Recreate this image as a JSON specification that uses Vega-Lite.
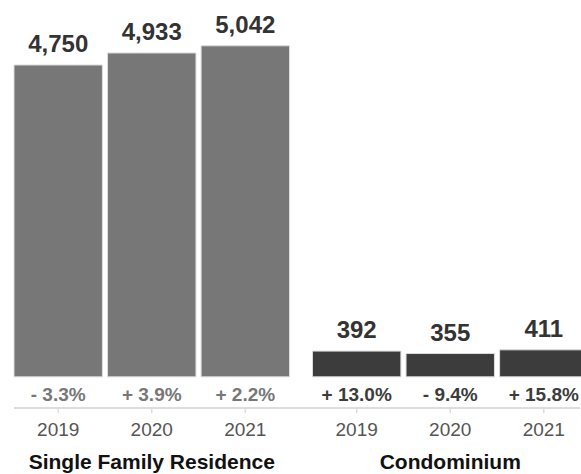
{
  "$schema": "https://vega.github.io/schema/vega-lite/v6.json",
  "width": 581,
  "height": 474,
  "autosize": {"type": "fit", "contains": "padding"},
  "padding": {"left": 13, "right": 0, "top": 0, "bottom": 0},
  "background": "white",
  "config": {"view": {"stroke": null}, "font": "Liberation Sans"},
  "data": {
    "values": [
      {"group": "Single Family Residence", "year": "2019", "value": 4750, "label": "4,750", "change": "- 3.3%"},
      {"group": "Single Family Residence", "year": "2020", "value": 4933, "label": "4,933", "change": "+ 3.9%"},
      {"group": "Single Family Residence", "year": "2021", "value": 5042, "label": "5,042", "change": "+ 2.2%"},
      {"group": "Condominium", "year": "2019", "value": 392, "label": "392", "change": "+ 13.0%"},
      {"group": "Condominium", "year": "2020", "value": 355, "label": "355", "change": "- 9.4%"},
      {"group": "Condominium", "year": "2021", "value": 411, "label": "411", "change": "+ 15.8%"}
    ]
  },
  "encoding": {
    "x": {
      "field": "group", "type": "nominal",
      "scale": {"domain": ["Single Family Residence", "Condominium"], "range": [0, 574], "paddingInner": 0.077, "paddingOuter": 0},
      "axis": null
    },
    "xOffset": {
      "field": "year", "type": "nominal",
      "scale": {"paddingInner": 0.055, "paddingOuter": 0}
    }
  },
  "layer": [
    {
      "mark": {"type": "rule", "color": "#dddddd", "strokeWidth": 2},
      "encoding": {
        "x": null, "xOffset": null,
        "y": {"datum": -475, "type": "quantitative", "scale": {"domain": [-1480, 5740], "nice": false, "zero": false}, "axis": null}
      }
    },
    {
      "mark": {"type": "rule", "color": "#dddddd", "strokeWidth": 1.5},
      "encoding": {
        "y": {"datum": -475, "type": "quantitative"},
        "y2": {"datum": -553}
      }
    },
    {
      "mark": {"type": "bar", "stroke": "#dcdcdc", "strokeWidth": 1},
      "encoding": {
        "y": {"field": "value", "type": "quantitative"},
        "y2": {"datum": 0},
        "color": {"field": "group", "type": "nominal", "scale": {"domain": ["Single Family Residence", "Condominium"], "range": ["#777777", "#3c3c3c"]}, "legend": null}
      }
    },
    {
      "mark": {"type": "text", "fontSize": 24, "fontWeight": "bold", "color": "#333333", "baseline": "alphabetic", "dy": -13},
      "encoding": {
        "y": {"field": "value", "type": "quantitative"},
        "text": {"field": "label"}
      }
    },
    {
      "mark": {"type": "text", "fontSize": 19, "fontWeight": "bold", "baseline": "middle"},
      "encoding": {
        "y": {"datum": -280, "type": "quantitative"},
        "text": {"field": "change"},
        "color": {"field": "group", "type": "nominal", "scale": {"domain": ["Single Family Residence", "Condominium"], "range": ["#777777", "#333333"]}, "legend": null}
      }
    },
    {
      "mark": {"type": "text", "fontSize": 19, "color": "#555555", "baseline": "middle"},
      "encoding": {
        "y": {"datum": -815, "type": "quantitative"},
        "text": {"field": "year"}
      }
    },
    {
      "transform": [{"filter": "datum.year == '2020'"}],
      "mark": {"type": "text", "fontSize": 21, "fontWeight": "bold", "color": "#111111", "baseline": "middle"},
      "encoding": {
        "y": {"datum": -1318, "type": "quantitative"},
        "text": {"field": "group"}
      }
    }
  ]
}
